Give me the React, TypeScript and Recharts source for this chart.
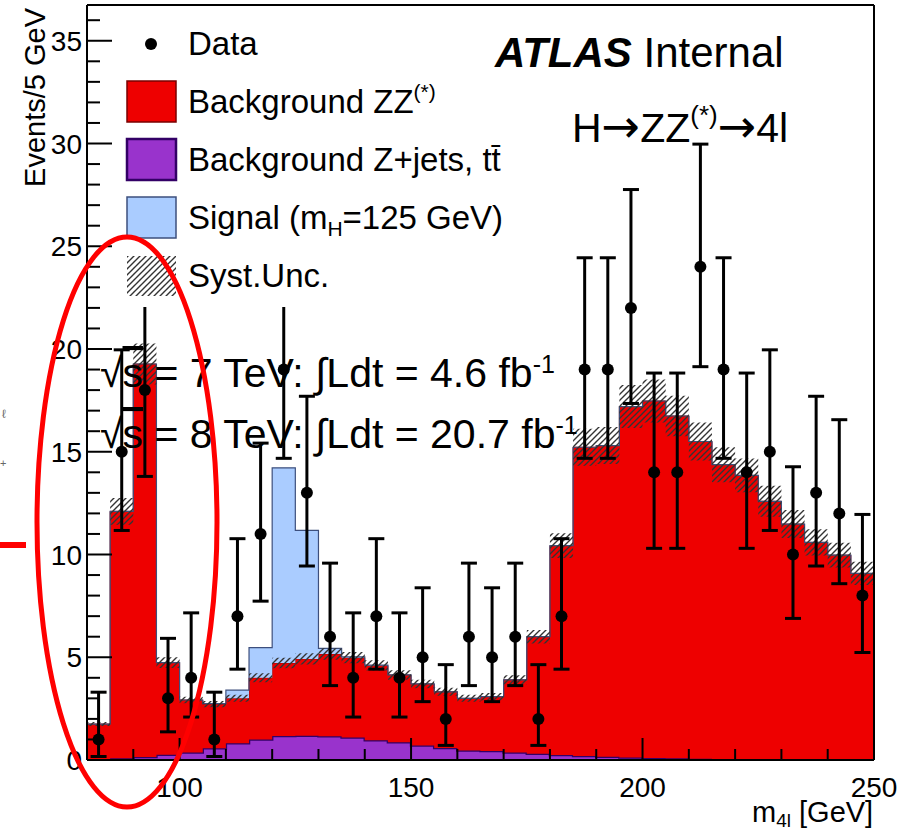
import React from 'react';
import { ComposedChart, Area, Scatter, ErrorBar, XAxis, YAxis } from 'recharts';

// histogram bin edges, 5 GeV wide [GeV]
const binEdges = [
  80, 85, 90, 95, 100, 105, 110, 115, 120, 125, 130, 135, 140, 145, 150, 155, 160, 165,
  170, 175, 180, 185, 190, 195, 200, 205, 210, 215, 220, 225, 230, 235, 240, 245, 250,
];

// Background Z+jets, ttbar (events / 5 GeV)
const zjetsBkg = [
  0.04, 0.08, 0.14, 0.26, 0.36, 0.57, 0.81, 1.0, 1.17, 1.18, 1.16, 1.1, 0.96, 0.86, 0.7, 0.58, 0.46,
  0.44, 0.37, 0.31, 0.24, 0.2, 0.16, 0.12, 0.1, 0.08, 0.06, 0.05, 0.04, 0.04, 0.03, 0.03, 0.03, 0.02,
];

// Background ZZ(*) (stacked on Z+jets)
const zzBkg = [
  1.71, 12.02, 19.13, 4.48, 2.56, 2.15, 2.19, 3.0, 3.55, 3.74, 4.0, 3.88, 3.64, 3.28, 3.0, 2.74, 2.54,
  2.64, 3.53, 5.69, 10.19, 15.02, 15.14, 17.08, 17.37, 16.66, 15.44, 14.32, 13.81, 12.55, 11.45, 10.56, 9.94, 9.06,
];

// Signal mH = 125 GeV
const signalHiggs = [
  0, 0, 0, 0, 0, 0.02, 0.4, 1.47, 9.5, 6.25, 0.27, 0.04, 0.02, 0, 0, 0, 0,
  0, 0, 0, 0, 0, 0, 0, 0, 0, 0, 0, 0, 0, 0, 0, 0, 0,
];

// systematic uncertainty on total background (half width)
const systUnc = [
  0.1, 0.65, 1.0, 0.26, 0.16, 0.15, 0.17, 0.22, 0.26, 0.27, 0.28, 0.27, 0.25, 0.23, 0.21, 0.19, 0.17,
  0.18, 0.22, 0.33, 0.6, 0.9, 0.9, 1.05, 1.05, 0.98, 0.92, 0.85, 0.82, 0.75, 0.68, 0.64, 0.6, 0.57,
];

// observed events per bin
const dataCounts = [
  1, 15, 18, 3, 4, 1, 7, 11, 19, 13, 6, 4, 7, 4, 5, 2, 6,
  5, 6, 2, 7, 19, 19, 22, 14, 14, 24, 19, 14, 15, 10, 13, 12, 8,
];

// poisson error bars (down / up)
const errLow = [
  0.83, 3.83, 4.2, 1.63, 1.91, 0.83, 2.58, 3.27, 4.32, 3.56, 2.38, 1.91, 2.58, 1.91, 2.16, 1.29, 2.38,
  2.16, 2.38, 1.29, 2.58, 4.32, 4.32, 4.65, 3.7, 3.7, 4.86, 4.32, 3.7, 3.83, 3.11, 3.56, 3.42, 2.77,
];
const errHigh = [
  2.3, 4.96, 5.32, 2.92, 3.16, 2.3, 3.77, 4.42, 5.44, 4.7, 3.58, 3.16, 3.77, 3.16, 3.38, 2.64, 3.58,
  3.38, 3.58, 2.64, 3.77, 5.44, 5.44, 5.76, 4.83, 4.83, 5.97, 5.44, 4.83, 4.96, 4.27, 4.7, 4.56, 3.95,
];

const xTicks = [90, 100, 110, 120, 130, 140, 150, 160, 170, 180, 190, 200, 210, 220, 230, 240, 250];
const yTicks = [
  0, 1, 2, 3, 4, 5, 6, 7, 8, 9, 10, 11, 12, 13, 14, 15, 16, 17, 18, 19, 20, 21, 22, 23, 24, 25,
  26, 27, 28, 29, 30, 31, 32, 33, 34, 35, 36,
];

const RED = '#ee0000';
const PURPLE = '#9933cc';
const BLUE = '#aaccff';
const FONT = '"Liberation Sans", Arial, sans-serif';
const ARROW_FONT = '"DejaVu Sans", sans-serif';

// step histogram table: one row per bin edge, last edge repeats the last bin
const histData = binEdges.map((x, i) => {
  const k = Math.min(i, zzBkg.length - 1);
  const total = zjetsBkg[k] + zzBkg[k];
  return {
    x,
    zjets: zjetsBkg[k],
    zz: zzBkg[k],
    signal: signalHiggs[k],
    band: [total - systUnc[k], total + systUnc[k]],
  };
});

const dataPoints = dataCounts.map((n, i) => ({
  x: (binEdges[i] + binEdges[i + 1]) / 2,
  y: n,
  err: [errLow[i], errHigh[i]],
}));

const YTick = (props: any) => {
  const { x, y, payload } = props;
  const v = payload.value;
  const major = v % 5 === 0;
  return (
    <g>
      <line x1={x} y1={y} x2={x + (major ? 25 : 13)} y2={y} stroke="#000" strokeWidth={2} />
      {major && (
        <text x={x - 5} y={y + 10} textAnchor="end" fontSize={28} fontFamily={FONT} fill="#000">
          {v}
        </text>
      )}
    </g>
  );
};

const XTick = (props: any) => {
  const { x, y, payload } = props;
  const v = payload.value;
  const major = v % 50 === 0;
  return (
    <g>
      <line x1={x} y1={y} x2={x} y2={y - (major ? 22 : 11)} stroke="#000" strokeWidth={2} />
      {major && (
        <text x={x} y={y + 37} textAnchor="middle" fontSize={28} fontFamily={FONT} fill="#000">
          {v}
        </text>
      )}
    </g>
  );
};

const Dot = (p: any) => <circle cx={p.cx} cy={p.cy} r={6} fill="#000" />;

export default function App() {
  return (
    <div style={{ position: 'absolute', left: 0, top: 0, width: 900, height: 830, background: '#fff' }}>
      <ComposedChart
        width={900}
        height={830}
        data={histData}
        margin={{ top: 4, right: 25, bottom: 69, left: 86 }}
      >
        <Area
          type="stepAfter"
          dataKey="zjets"
          stackId="s"
          fill={PURPLE}
          fillOpacity={1}
          stroke="#330066"
          strokeWidth={2.5}
          isAnimationActive={false}
        />
        <Area
          type="stepAfter"
          dataKey="zz"
          stackId="s"
          fill={RED}
          fillOpacity={1}
          stroke="#aa0000"
          strokeWidth={1}
          isAnimationActive={false}
        />
        <Area
          type="stepAfter"
          dataKey="signal"
          stackId="s"
          fill={BLUE}
          fillOpacity={1}
          stroke="#3d4f7d"
          strokeWidth={1.2}
          isAnimationActive={false}
        />
        <Area
          type="stepAfter"
          dataKey="band"
          fill="url(#hatch)"
          fillOpacity={1}
          stroke="none"
          isAnimationActive={false}
        />
        <Scatter data={dataPoints} dataKey="y" shape={<Dot />} isAnimationActive={false}>
          <ErrorBar dataKey="err" direction="y" width={8} strokeWidth={3} stroke="#000" />
        </Scatter>
        <XAxis
          dataKey="x"
          type="number"
          domain={[80, 250]}
          allowDataOverflow
          ticks={xTicks}
          interval={0}
          height={1}
          tickSize={0}
          tickMargin={0}
          tickLine={false}
          tick={<XTick />}
          axisLine={{ stroke: '#000', strokeWidth: 2 }}
        />
        <YAxis
          type="number"
          domain={[0, 36.74]}
          allowDataOverflow
          ticks={yTicks}
          interval={0}
          width={1}
          tickSize={0}
          tickMargin={0}
          tickLine={false}
          tick={<YTick />}
          axisLine={{ stroke: '#000', strokeWidth: 2 }}
        />
        <XAxis
          xAxisId="top"
          orientation="top"
          type="number"
          domain={[80, 250]}
          height={1}
          tick={false}
          tickLine={false}
          axisLine={{ stroke: '#000', strokeWidth: 2 }}
        />
        <YAxis
          yAxisId="right"
          orientation="right"
          type="number"
          domain={[0, 36.74]}
          width={1}
          tick={false}
          tickLine={false}
          axisLine={{ stroke: '#000', strokeWidth: 2 }}
        />
      </ComposedChart>

      <svg
        width={900}
        height={830}
        style={{ position: 'absolute', left: 0, top: 0, pointerEvents: 'none' }}
        fontFamily={FONT}
      >
        <defs>
          <pattern id="hatch" patternUnits="userSpaceOnUse" width={6} height={6}>
            <path d="M-1,1 l2,-2 M0,6 l6,-6 M5,7 l2,-2" stroke="#333" strokeWidth={1.4} />
          </pattern>
        </defs>

        {/* axis titles */}
        <text transform="translate(45,8) rotate(-90)" textAnchor="end" fontSize={29}>
          Events/5 GeV
        </text>
        <text x={752} y={822} fontSize={29}>
          m<tspan fontSize={19} dy={5}>4l</tspan>
          <tspan dy={-5}> [GeV]</tspan>
        </text>

        {/* legend */}
        <rect x={115} y={8} width={395} height={299} fill="#fff" />
        <circle cx={151} cy={44} r={6} fill="#000" />
        <text x={188} y={55} fontSize={33}>Data</text>
        <rect x={127} y={81} width={49} height={41} fill={RED} stroke="#7a0000" strokeWidth={1.5} />
        <text x={188} y={113} fontSize={33}>
          Background ZZ<tspan fontSize={21} dy={-14}>(*)</tspan>
        </text>
        <rect x={127} y={139} width={49} height={41} fill={PURPLE} stroke="#330066" strokeWidth={2.5} />
        <text x={188} y={171} fontSize={33}>
          Background Z+jets, tt{'\u0304'}
        </text>
        <rect x={127} y={197} width={49} height={41} fill={BLUE} stroke="#3d4f7d" strokeWidth={1.5} />
        <text x={188} y={229} fontSize={33}>
          Signal (m<tspan fontSize={21} dy={7}>H</tspan>
          <tspan dy={-7}>=125 GeV)</tspan>
        </text>
        <rect x={127} y={256} width={49} height={40} fill="url(#hatch)" />
        <text x={188} y={287} fontSize={33}>Syst.Unc.</text>

        {/* labels */}
        <text x={495} y={67} fontSize={42}>
          <tspan fontWeight="bold" fontStyle="italic">ATLAS</tspan>
          <tspan> Internal</tspan>
        </text>
        <text x={572} y={142} fontSize={41}>
          H<tspan fontFamily={ARROW_FONT} fontSize={46}>{'\u2192'}</tspan>ZZ
          <tspan fontSize={26} dy={-18}>(*)</tspan>
          <tspan dy={18} fontFamily={ARROW_FONT} fontSize={46}>{'\u2192'}</tspan>4l
        </text>
        <text x={100} y={387} fontSize={41}>
          {'\u221A'}<tspan style={{ textDecoration: 'overline' }}>s</tspan> = 7 TeV: {'\u222B'}Ldt = 4.6 fb
          <tspan fontSize={25} dy={-14}>-1</tspan>
        </text>
        <text x={100} y={448} fontSize={41}>
          {'\u221A'}<tspan style={{ textDecoration: 'overline' }}>s</tspan> = 8 TeV: {'\u222B'}Ldt = 20.7 fb
          <tspan fontSize={25} dy={-14}>-1</tspan>
        </text>

        {/* annotation marks */}
        <ellipse cx={127} cy={522} rx={90} ry={285} fill="none" stroke="#ff0000" strokeWidth={5} />
        <rect x={0} y={542} width={26} height={6} fill="#ff0000" />
        <text x={2} y={418} fontSize={12} fill="#666">{'\u2113'}</text>
        <text x={0} y={467} fontSize={11} fill="#666">+</text>
      </svg>
    </div>
  );
}
